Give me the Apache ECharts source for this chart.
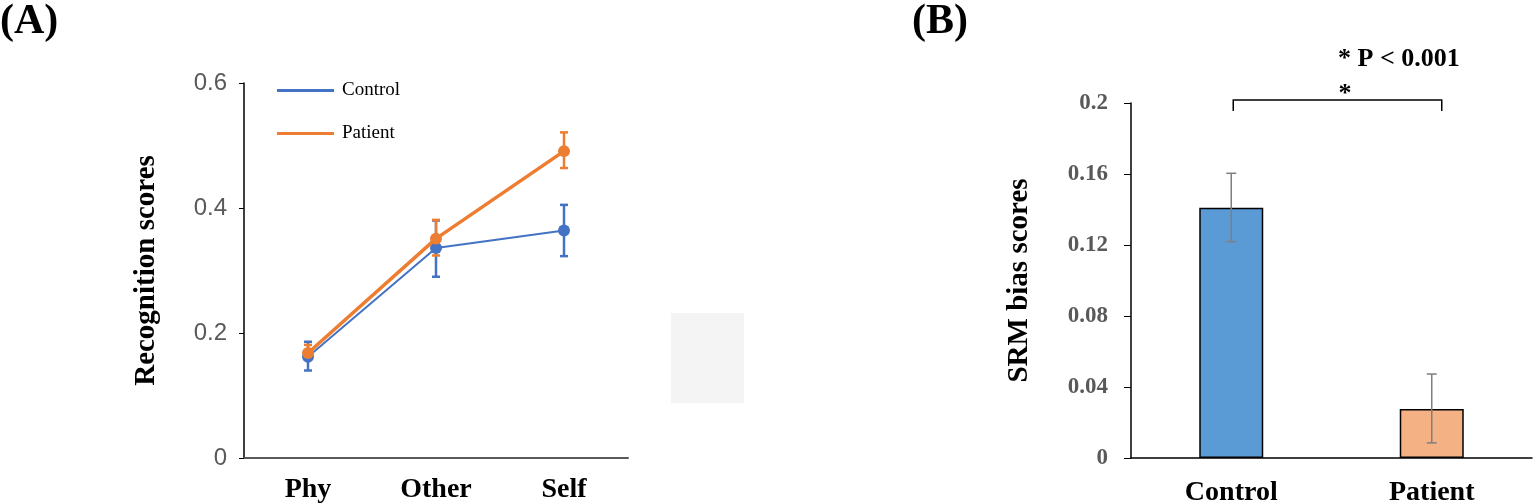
<!DOCTYPE html>
<html>
<head>
<meta charset="utf-8">
<script src="https://cdn.jsdelivr.net/npm/echarts@6/dist/echarts.min.js"></script>
<style>html,body{margin:0;padding:0;background:#fff;}#c{width:1535px;height:504px;}</style>
</head>
<body>
<div id="c"></div>
<script>
// Panel A data
const categoriesA = ['Phy', 'Other', 'Self'];
const controlScores = [0.162, 0.336, 0.364];
const controlErrLow = [0.140, 0.290, 0.323];
const controlErrHigh = [0.186, 0.380, 0.405];
const patientScores = [0.168, 0.351, 0.491];
const patientErrLow = [0.158, 0.324, 0.464];
const patientErrHigh = [0.181, 0.381, 0.521];
const ticksA = [0, 0.2, 0.4, 0.6];

// Panel B data
const categoriesB = ['Control', 'Patient'];
const biasScores = [0.141, 0.0276];
const biasErrLow = [0.1219, 0.0085];
const biasErrHigh = [0.1604, 0.0473];
const ticksB = [0, 0.04, 0.08, 0.12, 0.16, 0.2];
const bracketLevel = 0.2017;
const bracketDrop = 0.1955;

const SERIF = '"Liberation Serif", "Times New Roman", serif';
const SANS = '"Liberation Sans", Arial, sans-serif';

function errData(low, high) { return low.map((l, i) => [i, l, high[i]]); }
function errRender(capHalf, lw, color) {
  return function (params, api) {
    const x = api.value(0);
    const lo = api.coord([x, api.value(1)]);
    const hi = api.coord([x, api.value(2)]);
    const st = { stroke: color, lineWidth: lw };
    return { type: 'group', children: [
      { type: 'line', shape: { x1: lo[0], y1: lo[1], x2: hi[0], y2: hi[1] }, style: st },
      { type: 'line', shape: { x1: lo[0] - capHalf, y1: lo[1], x2: lo[0] + capHalf, y2: lo[1] }, style: st },
      { type: 'line', shape: { x1: hi[0] - capHalf, y1: hi[1], x2: hi[0] + capHalf, y2: hi[1] }, style: st }
    ]};
  };
}

const chart = echarts.init(document.getElementById('c'));
chart.setOption({
  animation: false,
  backgroundColor: '#fff',
  legend: {
    data: ['Control', 'Patient'],
    orient: 'vertical', left: 272, top: 76,
    itemWidth: 57, itemHeight: 3, itemGap: 24, icon: 'rect',
    textStyle: { fontFamily: SERIF, fontSize: 19, color: '#000', padding: [0, 0, 8, 3] }
  },
  grid: [
    { left: 244, right: 1535 - 628, top: 83, bottom: 46, containLabel: false, outerBoundsMode: 'none' },
    { left: 1131, right: 3, top: 103, bottom: 46, containLabel: false, outerBoundsMode: 'none' }
  ],
  xAxis: [
    { type: 'category', gridIndex: 0, data: categoriesA,
      axisLine: { lineStyle: { color: '#595959', width: 2 } },
      axisTick: { alignWithLabel: true, inside: true, length: 15, lineStyle: { color: '#000', width: 1.5 } },
      axisLabel: { margin: 18, fontFamily: SERIF, fontWeight: 'bold', fontSize: 28, color: '#000' } },
    { type: 'category', gridIndex: 1, data: categoriesB,
      axisLine: { lineStyle: { color: '#000', width: 1.5 } },
      axisTick: { inside: true, length: 12, lineStyle: { color: '#000', width: 1.5 } },
      axisLabel: { margin: 21, fontFamily: SERIF, fontWeight: 'bold', fontSize: 28, color: '#000' } }
  ],
  yAxis: [
    { type: 'value', gridIndex: 0, min: ticksA[0], max: ticksA[ticksA.length - 1], interval: 0.2,
      splitLine: { show: false },
      axisLine: { show: true, lineStyle: { color: '#000', width: 1.5 } },
      axisTick: { show: true, length: 5, lineStyle: { color: '#000' } },
      axisLabel: { margin: 17, fontFamily: SANS, fontSize: 24, color: '#595959', formatter: v => String(+v.toFixed(2)) },
      name: 'Recognition scores', nameLocation: 'middle', nameGap: 83, nameRotate: 90,
      nameTextStyle: { fontFamily: SERIF, fontWeight: 'bold', fontSize: 29, color: '#000' } },
    { type: 'value', gridIndex: 1, min: ticksB[0], max: ticksB[ticksB.length - 1], interval: 0.04,
      splitLine: { show: false },
      axisLine: { show: true, lineStyle: { color: '#000', width: 1.5 } },
      axisTick: { show: true, length: 7, lineStyle: { color: '#000' } },
      axisLabel: { margin: 23, fontFamily: SERIF, fontWeight: 'bold', fontSize: 23, color: '#595959', formatter: v => String(+v.toFixed(2)) },
      name: 'SRM bias scores', nameLocation: 'middle', nameGap: 97, nameRotate: 90,
      nameTextStyle: { fontFamily: SERIF, fontWeight: 'bold', fontSize: 29, color: '#000' } }
  ],
  series: [
    { type: 'custom', xAxisIndex: 0, yAxisIndex: 0, data: errData(controlErrLow, controlErrHigh),
      renderItem: errRender(4, 2.5, '#4472C4'), z: 3, silent: true },
    { type: 'custom', xAxisIndex: 0, yAxisIndex: 0, data: errData(patientErrLow, patientErrHigh),
      renderItem: errRender(4, 2.5, '#ED7D31'), z: 3, silent: true },
    { name: 'Control', type: 'line', xAxisIndex: 0, yAxisIndex: 0, data: controlScores,
      color: '#4472C4', symbol: 'circle', symbolSize: 12, lineStyle: { width: 2 }, z: 4 },
    { name: 'Patient', type: 'line', xAxisIndex: 0, yAxisIndex: 0, data: patientScores,
      color: '#ED7D31', symbol: 'circle', symbolSize: 12, lineStyle: { width: 3.5 }, z: 5 },
    { name: 'SRM bias', type: 'bar', xAxisIndex: 1, yAxisIndex: 1, barWidth: 64,
      data: biasScores.map((v, i) => ({ value: v, itemStyle: { color: i === 0 ? '#5B9BD5' : '#F4B183' } })),
      itemStyle: { borderColor: '#000', borderWidth: 1.5 } },
    { type: 'custom', xAxisIndex: 1, yAxisIndex: 1, data: errData(biasErrLow, biasErrHigh),
      renderItem: errRender(5, 1.5, '#7f7f7f'), z: 5, silent: true },
    { type: 'custom', xAxisIndex: 1, yAxisIndex: 1, data: [[0, bracketLevel, bracketDrop]],
      renderItem: function (params, api) {
        const a = api.coord([0, api.value(1)]);
        const b = api.coord([1, api.value(1)]);
        const d = api.coord([0, api.value(2)]);
        return { type: 'polyline', shape: { points: [[a[0] + 2, d[1]], [a[0] + 2, a[1]], [b[0] + 10, b[1]], [b[0] + 10, d[1]]] },
          style: { stroke: '#000', lineWidth: 1.5, fill: null } };
      }, silent: true, z: 6, clip: false }
  ],
  graphic: [
    { type: 'text', left: 0, top: 1, style: { text: '(A)', font: 'bold 42px ' + SERIF, fill: '#000' } },
    { type: 'text', left: 912, top: 1, style: { text: '(B)', font: 'bold 42px ' + SERIF, fill: '#000' } },
    { type: 'rect', shape: { x: 671, y: 313, width: 73, height: 90 }, style: { fill: '#f4f4f4' } },
    { type: 'text', x: 1345, y: 94, style: { text: '*', font: 'bold 26px ' + SERIF, fill: '#000', align: 'center', verticalAlign: 'middle' } },
    { type: 'text', x: 1338, y: 59, style: { text: '* P < 0.001', font: 'bold 26px ' + SERIF, fill: '#000', align: 'left', verticalAlign: 'middle' } }
  ]
});
</script>
</body>
</html>
